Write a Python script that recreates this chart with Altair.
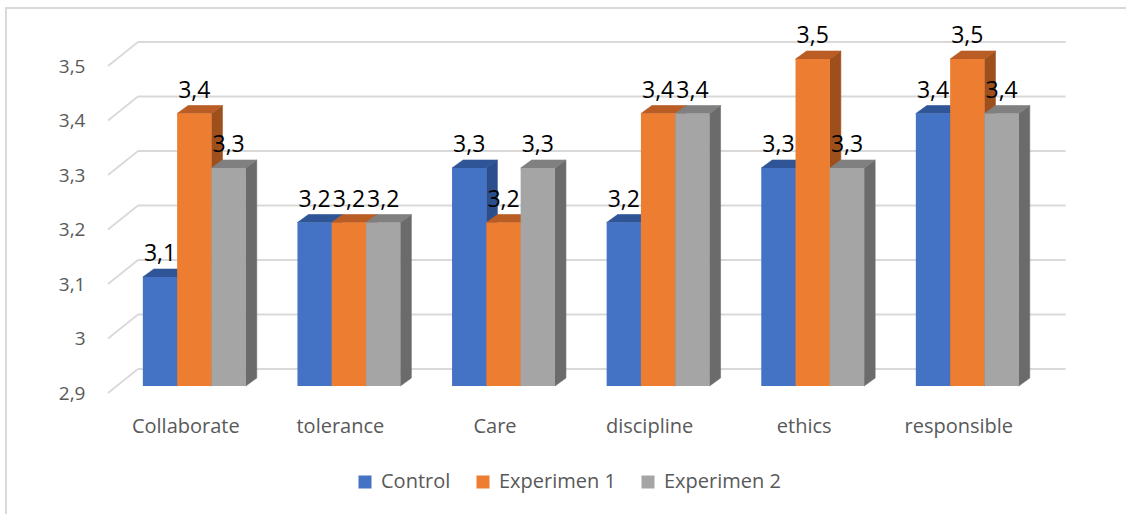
import json
import altair as alt
import pandas as pd

# ---------------- data ----------------
categories = ["Collaborate", "tolerance", "Care", "discipline", "ethics", "responsible"]
series = ["Control", "Experimen 1", "Experimen 2"]
control = [3.1, 3.2, 3.3, 3.2, 3.3, 3.4]
experimen1 = [3.4, 3.2, 3.2, 3.4, 3.5, 3.5]
experimen2 = [3.3, 3.2, 3.3, 3.4, 3.3, 3.4]
y_ticks = [2.9, 3.0, 3.1, 3.2, 3.3, 3.4, 3.5]

front_colors = ["#4472C4", "#ED7D31", "#A5A5A5"]
top_colors = ["#2F5597", "#B95D25", "#808080"]
side_colors = ["#2B4E8C", "#9E501C", "#6B6B6B"]

# ---------------- geometry (style constants) ----------------
BASE = 2.9
PXU, PXV = 154.6, 545.0          # px per category unit / per value unit
BAR_W = 34.3 / PXU
GAP = (1 - 3 * BAR_W) / 2
BDX, BDY = 11 / PXU, 8 / PXV      # bar depth
DXB, DYB = 21 / PXU, 17 / PXV     # back wall offset
DXF, DYF = -9 / PXU, -7 / PXV     # front plane offset

values = [control, experimen1, experimen2]

fronts, sides, tops, labels = [], [], [], []
for ci, cat in enumerate(categories):
    for si, s in enumerate(series):
        v = values[si][ci]
        xl = ci + GAP + si * BAR_W
        xr = xl + BAR_W
        bid = f"{ci}-{si}"
        fronts.append({"series": s, "x": xl, "x2": xr, "y": BASE, "y2": v})
        sides.append({"id": bid, "col": side_colors[si], "x": xr, "y": BASE, "y2": v})
        sides.append({"id": bid, "col": side_colors[si], "x": xr + BDX, "y": BASE + BDY, "y2": v + BDY})
        tops.append({"id": bid, "col": top_colors[si], "x": xl, "y": v, "y2": v})
        tops.append({"id": bid, "col": top_colors[si], "x": xl + BDX, "y": v, "y2": v + BDY})
        tops.append({"id": bid, "col": top_colors[si], "x": xr, "y": v, "y2": v + BDY})
        tops.append({"id": bid, "col": top_colors[si], "x": xr + BDX, "y": v + BDY, "y2": v + BDY})
        labels.append({"x": (xl + xr) / 2, "y": v, "label": f"{v:.1f}".replace(".", ",")})

grid = pd.DataFrame({
    "x": [DXB] * len(y_ticks),
    "x2": [len(categories) + DXB] * len(y_ticks),
    "y": [t + DYB for t in y_ticks],
})
slants = pd.DataFrame({
    "x": [DXF] * len(y_ticks),
    "x2": [DXB] * len(y_ticks),
    "y": [t + DYF for t in y_ticks],
    "y2": [t + DYB for t in y_ticks],
})

W, H = 1000, 400
LEFT, TOP = 100, 0
x_dom = [(0 - 17) / PXU, (W - 17) / PXU]
y_dom = [BASE - (H - 386) / PXV, BASE + 386 / PXV]
xs = alt.Scale(domain=x_dom, nice=False, zero=False)
ys = alt.Scale(domain=y_dom, nice=False, zero=False)

FONT = "Open Sans"
GREY_TXT = "#595959"

x_axis = alt.Axis(
    values=[i + 0.5 + DXF for i in range(len(categories))],
    labelExpr=json.dumps(categories) + "[round(datum.value - 0.5)]",
    domain=False, ticks=False, grid=False, title=None,
    labelFont=FONT, labelFontSize=20, labelColor=GREY_TXT,
    labelPadding=32, labelBaseline="alphabetic",
    labelFlush=False, labelOverlap=False, labelBound=False,
)
y_axis = alt.Axis(
    values=y_ticks,
    labelExpr="replace(format(datum.value, '.1~f'), '.', ',')",
    domain=False, ticks=False, grid=False, title=None,
    labelFont=FONT, labelFontSize=19, labelColor=GREY_TXT,
    labelPadding=15, labelOffset=7,
    labelFlush=False, labelOverlap=False, labelBound=False,
)

def X(f="x"):
    return alt.X(f"{f}:Q", scale=xs, axis=x_axis)

def Y(f="y"):
    return alt.Y(f"{f}:Q", scale=ys, axis=y_axis, stack=False)

frame_df = pd.DataFrame({"k": [0]})
frame_top = alt.Chart(frame_df).mark_rule(color="#D9D9D9", strokeWidth=2).encode(
    x=alt.value(5 - LEFT), x2=alt.value(1126 - LEFT), y=alt.value(8 - TOP)
)
frame_left = alt.Chart(frame_df).mark_rule(color="#D9D9D9", strokeWidth=2).encode(
    x=alt.value(6 - LEFT), y=alt.value(8 - TOP), y2=alt.value(514)
)

grid_layer = alt.Chart(grid).mark_rule(color="#D9D9D9", strokeWidth=1.8).encode(
    x=X(), x2="x2:Q", y=Y()
)
slant_layer = alt.Chart(slants).mark_rule(color="#D9D9D9", strokeWidth=1.8).encode(
    x=X(), x2="x2:Q", y=Y(), y2="y2:Q"
)

side_layer = alt.Chart(pd.DataFrame(sides)).mark_area(opacity=1, strokeWidth=0.6).encode(
    x=X(), y=Y(), y2="y2:Q", detail="id:N",
    fill=alt.Fill("col:N", scale=None), stroke=alt.Stroke("col:N", scale=None),
)
top_layer = alt.Chart(pd.DataFrame(tops)).mark_area(opacity=1, strokeWidth=0.6).encode(
    x=X(), y=Y(), y2="y2:Q", detail="id:N",
    fill=alt.Fill("col:N", scale=None), stroke=alt.Stroke("col:N", scale=None),
)
front_layer = alt.Chart(pd.DataFrame(fronts)).mark_rect(strokeWidth=0).encode(
    x=X(), x2="x2:Q", y=Y(), y2="y2:Q",
    color=alt.Color(
        "series:N",
        scale=alt.Scale(domain=series, range=front_colors),
        legend=alt.Legend(
            orient="none", legendX=255, legendY=472, direction="horizontal",
            title=None, symbolType="square", symbolSize=169, symbolStrokeWidth=0,
            labelFont=FONT, labelFontSize=20, labelColor=GREY_TXT,
            labelOffset=6, columnPadding=22, padding=0,
        ),
    ),
)
label_layer = alt.Chart(pd.DataFrame(labels)).mark_text(
    font=FONT, fontSize=23, color="#000000", dy=-23, baseline="middle", align="center"
).encode(x=X(), y=Y(), text="label:N")

chart = alt.layer(
    frame_top, frame_left, grid_layer, slant_layer,
    side_layer, top_layer, front_layer, label_layer,
).properties(
    width=W, height=H,
    autosize=alt.AutoSizeParams(type="none"),
    padding={"left": LEFT, "top": TOP, "right": 1126 - LEFT - W, "bottom": 514 - TOP - H},
    background="white",
).configure_view(strokeWidth=0)

chart.save("out.html", embed_options={"renderer": "svg", "actions": False})
